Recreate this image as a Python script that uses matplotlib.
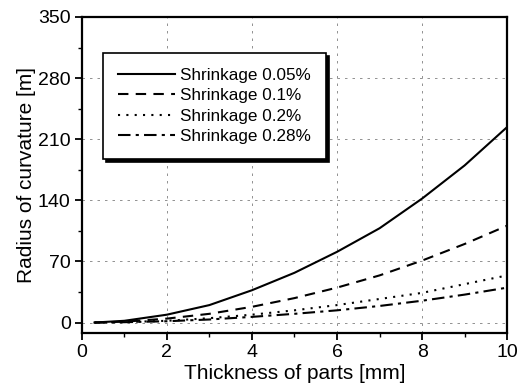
import matplotlib
matplotlib.use("agg")
import matplotlib.pyplot as plt
from matplotlib.ticker import MultipleLocator

plt.rcParams["font.family"] = ["Liberation Sans", "DejaVu Sans"]

thickness = [0.3, 1, 2, 3, 4, 5, 6, 7, 8, 9, 10]
r_005 = [0, 2, 9, 20, 37, 57, 81, 108, 142, 180, 224]
r_01 = [0, 1, 4.5, 10, 18, 28, 40, 54, 71, 90, 111]
r_02 = [0, 0.5, 2, 5, 9, 14, 20, 27, 34, 44, 54]
r_028 = [0, 0.4, 1.5, 3.5, 6.5, 10, 14, 19, 25, 32, 40]
labels = ["Shrinkage 0.05%", "Shrinkage 0.1%", "Shrinkage 0.2%", "Shrinkage 0.28%"]

fig = plt.figure(figsize=(5.24, 3.85), dpi=100)
ax = fig.add_axes([0.156, 0.135, 0.812, 0.821])

styles = ["-", (0, (5, 3.5)), (0, (1, 3)), (0, (6, 2.5, 1.5, 2.5))]
for vals, ls, lab in zip([r_005, r_01, r_02, r_028], styles, labels):
    ax.plot(thickness, vals, color="black", linestyle=ls, lw=1.5, label=lab)

ax.set_xlim(0, 10)
ax.set_ylim(-12, 350)
ax.set_xticks([0, 2, 4, 6, 8, 10])
ax.set_yticks([0, 70, 140, 210, 280, 350])
ax.xaxis.set_minor_locator(MultipleLocator(1))
ax.yaxis.set_minor_locator(MultipleLocator(35))
ax.tick_params(which="major", direction="out", length=5, width=1.3, labelsize=14, pad=3)
ax.tick_params(which="minor", direction="out", length=3, width=1.0)
for s in ax.spines.values():
    s.set_linewidth(1.6)

# faint dotted grid like the scanned original
ax.grid(True, which="major", color="0.5", linestyle=(0, (3, 6)), lw=0.6)

ax.set_xlabel("Thickness of parts [mm]", fontsize=15, labelpad=2)
ax.set_ylabel("Radius of curvature [m]", fontsize=15, labelpad=1)

leg = ax.legend(loc="upper left", bbox_to_anchor=(0.05, 0.886), borderaxespad=0,
                fontsize=12.3, frameon=True, fancybox=False, framealpha=1,
                edgecolor="black", handlelength=3.3, handletextpad=0.3,
                labelspacing=0.3, borderpad=0.9,
                shadow={"color": "black", "alpha": 1})
leg.get_frame().set_linewidth(1.2)

fig.savefig("out.png", dpi=100)
